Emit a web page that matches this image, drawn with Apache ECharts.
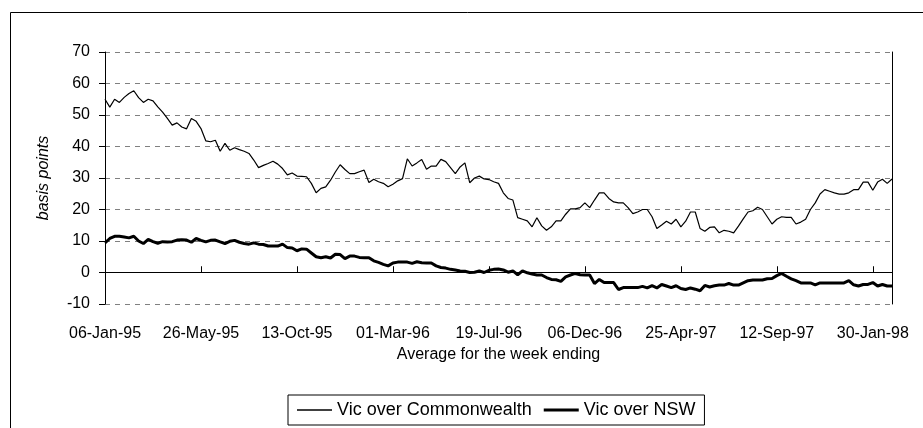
<!DOCTYPE html>
<html>
<head>
<meta charset="utf-8">
<script src="https://cdn.jsdelivr.net/npm/echarts@6/dist/echarts.min.js"></script>
<style>
  html, body { margin: 0; padding: 0; background: #fff; }
  #chart { width: 923px; height: 428px; }
</style>
</head>
<body>
<div id="chart"></div>
<script>
// weekly averages, basis points, week ending 06-Jan-95 onwards
const vicOverCommonwealth = [
  55, 52.5, 55, 54, 55.6, 56.8, 57.7, 55.5, 54, 55,
  54.5, 52.6, 50.9, 48.9, 46.8, 47.5, 46.2, 45.6, 48.9, 48,
  45.7, 41.8, 41.5, 42, 38.5, 41, 38.8, 39.6, 39, 38.5,
  37.8, 35.7, 33.3, 34, 34.6, 35.3, 34.4, 33, 31, 31.6,
  30.6, 30.5, 30.4, 28.3, 25.3, 26.7, 27.2, 29.3, 31.9, 34.2,
  32.7, 31.4, 31.4, 32, 32.5, 28.6, 29.6, 28.8, 28.3, 27.2,
  28, 29.1, 29.8, 36.1, 33.8, 34.8, 35.9, 32.8, 33.8, 33.8,
  35.9, 35.2, 33.3, 31.4, 33.5, 34.8, 28.5, 30, 30.6, 29.7,
  29.5, 28.8, 28.3, 25.3, 23.5, 23, 17.4, 16.9, 16.4, 14.5,
  17.4, 14.8, 13.4, 14.5, 16.4, 16.4, 18.5, 20.2, 20.2, 20.6,
  22.1, 20.6, 23, 25.3, 25.3, 23.5, 22.4, 22.1, 22.1, 20.6,
  18.7, 19.2, 20, 20, 17.7, 14, 15.1, 16.3, 15.4, 16.9,
  14.5, 16.3, 19.2, 19.2, 14, 13.1, 14.3, 14.5, 12.6, 13.4,
  13.1, 12.6, 14.7, 17, 19.2, 19.6, 20.7, 20, 17.7, 15.4,
  16.9, 17.7, 17.5, 17.5, 15.4, 16, 16.9, 20, 22.1, 24.9,
  26.3, 25.8, 25.3, 24.9, 24.9, 25.3, 26.3, 26.3, 28.7, 28.7,
  26.1, 28.7, 29.6, 28.3, 29.7
];
const vicOverNSW = [
  9.4, 10.8, 11.5, 11.5, 11.3, 11, 11.5, 10, 9.2, 10.5,
  9.8, 9.3, 9.8, 9.7, 9.8, 10.3, 10.4, 10.3, 9.6, 10.8,
  10.2, 9.7, 10.2, 10.3, 9.7, 9.2, 9.9, 10.2, 9.6, 9.2,
  9, 9.4, 9, 8.9, 8.4, 8.4, 8.4, 9, 7.9, 7.8,
  6.9, 7.5, 7.4, 6.2, 5, 4.7, 5, 4.6, 5.8, 5.7,
  4.4, 5.2, 5.2, 4.8, 4.7, 4.7, 3.7, 3.2, 2.6, 2.1,
  3, 3.3, 3.3, 3.3, 2.9, 3.4, 3.1, 3, 3, 2.1,
  1.6, 1.4, 1, 0.8, 0.5, 0.4, 0, 0.1, 0.5, 0,
  0.7, 1, 1.1, 0.8, 0.1, 0.5, -0.7, 0.5, -0.1, -0.5,
  -0.8, -0.8, -1.6, -2.2, -2.3, -2.8, -1.4, -0.8, -0.3, -0.7,
  -0.8, -0.8, -3.5, -2.2, -3.2, -3.2, -3.2, -5.4, -4.8, -4.8,
  -4.8, -4.8, -4.4, -4.9, -4.2, -4.9, -3.8, -4.3, -4.8, -4.2,
  -5.1, -5.4, -4.9, -5.3, -5.8, -4.1, -4.6, -4.2, -4, -4,
  -3.5, -4, -4, -3.3, -2.6, -2.4, -2.4, -2.4, -2, -1.9,
  -1, -0.3, -1.2, -2, -2.6, -3.3, -3.3, -3.3, -3.9, -3.3,
  -3.3, -3.3, -3.3, -3.3, -3.3, -2.6, -3.9, -4.3, -3.8, -3.8,
  -3.2, -4.3, -3.8, -4.3, -4.3
];
const seriesNames = ['Vic over Commonwealth', 'Vic over NSW'];
const yTicks = [-10, 0, 10, 20, 30, 40, 50, 60, 70];

const monthNames = ['Jan', 'Feb', 'Mar', 'Apr', 'May', 'Jun', 'Jul', 'Aug', 'Sep', 'Oct', 'Nov', 'Dec'];
const weeks = [];
for (let i = 0; i < vicOverCommonwealth.length; i++) {
  const d = new Date(Date.UTC(1995, 0, 6 + 7 * i));
  const dd = String(d.getUTCDate()).padStart(2, '0');
  const yy = String(d.getUTCFullYear()).slice(2);
  weeks.push(dd + '-' + monthNames[d.getUTCMonth()] + '-' + yy);
}

const font = 'Arial, "Liberation Sans", sans-serif';
const chart = echarts.init(document.getElementById('chart'));

chart.setOption({
  backgroundColor: '#fff',
  animation: false,
  textStyle: { fontFamily: font, color: '#000' },
  graphic: [{
    type: 'rect',
    shape: { x: 10.5, y: 12.5, width: 1000, height: 1000 },
    style: { fill: 'none', stroke: '#000', lineWidth: 1 },
    silent: true
  }],
  grid: { left: 105, top: 52, right: 31, bottom: 124 },
  legend: {
    data: [
      { name: seriesNames[0], icon: 'path://M0,0H27V1H0Z' },
      { name: seriesNames[1], icon: 'path://M0,0H12V1H0Z' }
    ],
    left: 288,
    top: 395,
    padding: [6, 9],
    itemGap: 12,
    itemWidth: 35,
    itemHeight: 14,
    borderColor: '#000',
    borderWidth: 1,
    itemStyle: { color: '#000' },
    textStyle: { fontSize: 18, fontFamily: font, color: '#000' }
  },
  xAxis: [{
    type: 'category',
    data: weeks,
    boundaryGap: false,
    axisLine: { onZero: true, onZeroAxisIndex: 0, lineStyle: { color: '#000', width: 1 } },
    axisTick: { inside: true, length: 6, interval: 19, lineStyle: { color: '#000' } },
    axisLabel: { show: false },
    splitLine: { show: false }
  }, {
    type: 'category',
    data: weeks,
    boundaryGap: false,
    axisLine: { show: false, onZero: true, onZeroAxisIndex: 0 },
    axisTick: { length: 6, interval: 19, lineStyle: { color: '#000' } },
    axisLabel: { show: false },
    splitLine: { show: false }
  }, {
    type: 'category',
    data: weeks,
    boundaryGap: false,
    position: 'bottom',
    axisLine: { show: false, onZero: false },
    axisTick: { show: false },
    axisLabel: { interval: 19, margin: 22, fontSize: 16, color: '#000', fontFamily: font },
    name: 'Average for the week ending',
    nameLocation: 'middle',
    nameGap: 42,
    nameTextStyle: { fontSize: 16, color: '#000', fontFamily: font },
    splitLine: { show: false }
  }],
  yAxis: [{
    type: 'value',
    min: yTicks[0],
    max: yTicks[yTicks.length - 1],
    interval: 10,
    name: 'basis points',
    nameLocation: 'middle',
    nameGap: 53,
    nameTextStyle: { fontSize: 16, fontStyle: 'italic', color: '#000', fontFamily: font },
    axisLine: { show: true, lineStyle: { color: '#000', width: 1 } },
    axisTick: { show: true, length: 6, lineStyle: { color: '#000' } },
    axisLabel: { margin: 15, fontSize: 16, color: '#000', fontFamily: font },
    splitLine: { lineStyle: { color: '#808080', type: [5, 5], width: 1 } }
  }, {
    type: 'value',
    min: yTicks[0],
    max: yTicks[yTicks.length - 1],
    interval: 10,
    position: 'right',
    axisLine: { show: true, lineStyle: { color: '#000', width: 1 } },
    axisTick: { show: false },
    axisLabel: { show: false },
    splitLine: { show: false }
  }],
  series: [{
    name: seriesNames[0],
    type: 'line',
    data: vicOverCommonwealth,
    xAxisIndex: 0,
    yAxisIndex: 0,
    symbol: 'none',
    lineStyle: { color: '#000', width: 1.2 },
    itemStyle: { color: '#000' }
  }, {
    name: seriesNames[1],
    type: 'line',
    data: vicOverNSW,
    xAxisIndex: 0,
    yAxisIndex: 0,
    symbol: 'none',
    lineStyle: { color: '#000', width: 3 },
    itemStyle: { color: '#000' }
  }]
});
</script>
</body>
</html>
